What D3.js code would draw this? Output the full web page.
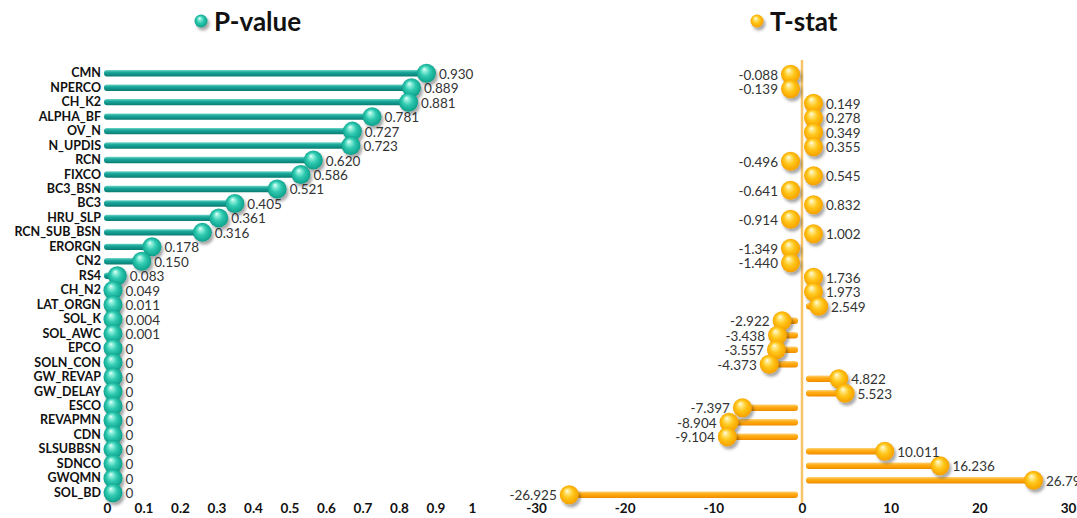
<!DOCTYPE html>
<html>
<head>
<meta charset="utf-8">
<script src="https://cdn.jsdelivr.net/npm/d3@7"></script>
<style>
  body { margin: 0; background: #fff; }
  #chart { width: 1077px; height: 518px; }
  text { font-family: Lato, "Open Sans", sans-serif; }
</style>
</head>
<body>
<div id="chart"></div>
<script>
// parameters, sorted by p-value (descending)
const params = ["CMN", "NPERCO", "CH_K2", "ALPHA_BF", "OV_N", "N_UPDIS", "RCN", "FIXCO",
    "BC3_BSN", "BC3", "HRU_SLP", "RCN_SUB_BSN", "ERORGN", "CN2", "RS4", "CH_N2", "LAT_ORGN",
    "SOL_K", "SOL_AWC", "EPCO", "SOLN_CON", "GW_REVAP", "GW_DELAY", "ESCO", "REVAPMN", "CDN",
    "SLSUBBSN", "SDNCO", "GWQMN", "SOL_BD"];
const pValues = [0.930, 0.889, 0.881, 0.781, 0.727, 0.723, 0.620, 0.586, 0.521, 0.405, 0.361,
    0.316, 0.178, 0.150, 0.083, 0.049, 0.011, 0.004, 0.001, 0, 0, 0, 0, 0, 0, 0, 0, 0, 0, 0];
const tStats = [-0.088, -0.139, 0.149, 0.278, 0.349, 0.355, -0.496, 0.545, -0.641, 0.832,
    -0.914, 1.002, -1.349, -1.440, 1.736, 1.973, 2.549, -2.922, -3.438, -3.557, -4.373, 4.822,
    5.523, -7.397, -8.904, -9.104, 10.011, 16.236, 26.790, -26.925];
const pTicks = [0, 0.1, 0.2, 0.3, 0.4, 0.5, 0.6, 0.7, 0.8, 0.9, 1];
const tTicks = [-30, -20, -10, 0, 10, 20, 30];

const R = 9.5;
// plain hyphen for negatives, like the original
const loc = d3.formatLocale({ decimal: ".", thousands: ",", grouping: [3], currency: ["", ""], minus: "-" });

function drawCharts() {
    const svg = d3.select("#chart").append("svg")
        .attr("width", 1077)
        .attr("height", 518);

    const defs = svg.append("defs");
    defs.append("filter").attr("id", "shadow")
        .attr("x", "-50%").attr("y", "-50%").attr("width", "200%").attr("height", "200%")
        .append("feDropShadow")
        .attr("dx", 2).attr("dy", 3).attr("stdDeviation", 1.6)
        .attr("flood-color", "#000").attr("flood-opacity", 0.35);

    function barGrad(id, stops) {
        const g = defs.append("linearGradient").attr("id", id)
            .attr("x1", 0).attr("y1", 0).attr("x2", 0).attr("y2", 1);
        stops.forEach(s => g.append("stop").attr("offset", s[0]).attr("stop-color", s[1]));
    }
    function ballGrad(id, stops) {
        const g = defs.append("radialGradient").attr("id", id)
            .attr("cx", "50%").attr("cy", "50%").attr("r", "55%")
            .attr("fx", "38%").attr("fy", "28%");
        stops.forEach(s => g.append("stop").attr("offset", s[0]).attr("stop-color", s[1]));
    }
    barGrad("tealBar", [[0, "#6fd6c9"], [0.35, "#1aa89b"], [0.75, "#0e8d83"], [1, "#0a7a71"]]);
    ballGrad("tealBall", [[0, "#f2fffb"], [0.18, "#8ff0dc"], [0.5, "#2fc9b0"], [0.85, "#13a892"], [1, "#0c8a78"]]);
    barGrad("orangeBar", [[0, "#ffd27a"], [0.35, "#ffae1a"], [0.75, "#fb9b00"], [1, "#e88a00"]]);
    ballGrad("orangeBall", [[0, "#fffdf0"], [0.18, "#ffe98a"], [0.5, "#ffc61a"], [0.85, "#f9a800"], [1, "#e39000"]]);

    drawPanel(svg, {
        title: "P-value", titleX: 214, ballFill: "url(#tealBall)", barFill: "url(#tealBar)",
        values: pValues, domain: [0, 1], range: [107, 472], ticks: pTicks,
        yRange: [66, 500], inset: 20, showCats: true,
        fmt: v => v === 0 ? "0" : loc.format(".3f")(v),
        tickFmt: v => v === 0 || v === 1 ? String(v) : loc.format(".1f")(v)
    });
    drawPanel(svg, {
        title: "T-stat", titleX: 770, ballFill: "url(#orangeBall)", barFill: "url(#orangeBar)",
        values: tStats, domain: [-30, 30], range: [536, 1068], ticks: tTicks,
        yRange: [67, 502], inset: 6, showCats: false,
        fmt: loc.format(".3f"),
        tickFmt: loc.format("d")
    });
}

function drawPanel(svg, o) {
    const x = d3.scaleLinear().domain(o.domain).range(o.range);
    const y = d3.scaleBand().domain(params).range(o.yRange);
    const x0 = x(0);
    const rows = params.map((name, i) => ({ name: name, value: o.values[i] }));

    // marker sits at the bar end, never overlapping the zero line
    const ballX = d => {
        const s = d.value < 0 ? -1 : 1;
        const px = x(d.value) - s * o.inset;
        const minGap = o.showCats ? 6 : R + 2;
        return s > 0 ? Math.max(px, x0 + minGap) : Math.min(px, x0 - minGap);
    };
    const cy = d => y(d.name) + y.bandwidth() / 2;

    // title
    const t = svg.append("g");
    t.append("circle").attr("cx", o.titleX - 13).attr("cy", 21).attr("r", 6.5)
        .attr("fill", o.ballFill).attr("filter", "url(#shadow)");
    t.append("text").attr("x", o.titleX).attr("y", 31)
        .style("font-size", "26px").style("font-weight", "bold").style("fill", "#111")
        .text(o.title);

    // zero line on the diverging panel
    if (!o.showCats) {
        svg.append("line")
            .attr("x1", x0).attr("x2", x0).attr("y1", 60).attr("y2", 504)
            .attr("stroke", "#f8c46a").attr("stroke-width", 2.5);
    }

    // bars
    svg.append("g").selectAll("rect")
        .data(rows)
        .enter()
        .append("rect")
        .attr("x", d => {
            if (o.showCats) return x0 - 3;
            return d.value < 0 ? ballX(d) : x0 + 4;
        })
        .attr("width", d => {
            if (o.showCats) return Math.max(ballX(d) - x0 + 3, 0);
            return d.value < 0 ? Math.max(x0 - 4 - ballX(d), 0) : Math.max(ballX(d) - x0 - 4, 0);
        })
        .attr("y", d => cy(d) - 3.2)
        .attr("height", 6.4)
        .attr("rx", 3)
        .attr("fill", o.barFill);

    // balls
    svg.append("g").selectAll("circle")
        .data(rows)
        .enter()
        .append("circle")
        .attr("cx", ballX)
        .attr("cy", cy)
        .attr("r", R)
        .attr("fill", o.ballFill)
        .attr("filter", "url(#shadow)");

    // value labels
    svg.append("g").selectAll("text")
        .data(rows)
        .enter()
        .append("text")
        .attr("x", d => d.value < 0 ? ballX(d) - R - 3 : ballX(d) + R + 3)
        .attr("y", d => cy(d) + 5.5)
        .style("text-anchor", d => d.value < 0 ? "end" : "start")
        .style("font-size", "13.5px")
        .style("fill", "#333")
        .text(d => o.fmt(d.value));

    // category labels
    if (o.showCats) {
        svg.append("g")
            .attr("transform", `translate(${x0 - 6},0)`)
            .call(d3.axisLeft(y).tickSize(0).tickPadding(0))
            .call(g => g.select(".domain").remove())
            .selectAll("text")
            .style("font-family", "Lato, 'Open Sans', sans-serif")
            .style("font-size", "12.5px")
            .style("font-weight", "bold")
            .style("fill", "#111");
    }

    // x axis
    svg.append("g")
        .attr("transform", "translate(0,497)")
        .call(d3.axisBottom(x).tickValues(o.ticks).tickFormat(o.tickFmt).tickSize(0).tickPadding(6))
        .call(g => g.select(".domain").remove())
        .selectAll("text")
        .style("font-family", "Lato, 'Open Sans', sans-serif")
        .style("font-size", "13.5px")
        .style("font-weight", "bold")
        .style("fill", "#111");
}

drawCharts();
</script>
</body>
</html>
